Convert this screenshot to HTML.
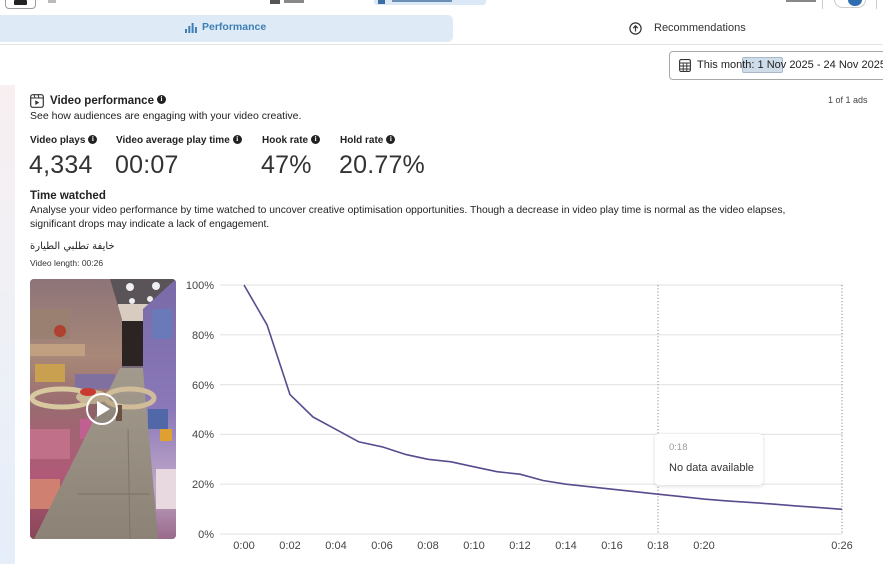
<!DOCTYPE html>
<html>
<head>
<meta charset="utf-8">
<style>
*{margin:0;padding:0;box-sizing:border-box;}
html,body{width:883px;height:564px;overflow:hidden;background:#fff;}
body{position:relative;font-family:"Liberation Sans","Noto Sans CJK SC",sans-serif;color:#222;}
.a{position:absolute;white-space:nowrap;}
.info{display:inline-block;width:9px;height:9px;border-radius:50%;background:#222;color:#fff;font-size:7px;line-height:9px;text-align:center;font-weight:bold;vertical-align:middle;margin-left:3px;position:relative;top:-1px;font-family:"Liberation Serif",serif;}
.lbl{font-size:10px;font-weight:bold;color:#222;}
.val{font-size:25px;color:#333;letter-spacing:0.2px;}
</style>
</head>
<body>
<!-- top toolbar remnants -->
<div class="a" style="left:5px;top:-6px;width:31px;height:15px;border:1px solid #9a9a9a;border-radius:4px;"></div>
<div class="a" style="left:14px;top:0;width:13px;height:5px;background:#222;border-radius:1px;"></div>
<div class="a" style="left:48px;top:0;width:8px;height:3px;background:#bbb;"></div>
<div class="a" style="left:270px;top:0;width:10px;height:4px;background:#555;"></div>
<div class="a" style="left:284px;top:0;width:20px;height:3px;background:#888;"></div>
<div class="a" style="left:374px;top:-4px;width:112px;height:9px;background:#dbe8f5;border-radius:3px;"></div>
<div class="a" style="left:378px;top:0;width:7px;height:4px;background:#3a6ea5;"></div>
<div class="a" style="left:392px;top:0;width:60px;height:2px;background:#6b8fb5;"></div>
<div class="a" style="left:786px;top:0;width:30px;height:2px;background:#888;"></div>
<div class="a" style="left:822px;top:0;width:1px;height:9px;background:#ccc;"></div>
<div class="a" style="left:834px;top:-9px;width:32px;height:17px;border:1px solid #ccc;border-radius:9px;"></div>
<div class="a" style="left:848px;top:-6px;width:14px;height:12px;background:#2f6db0;border-radius:50%;"></div>
<div class="a" style="left:876px;top:0;width:1px;height:9px;background:#ccc;"></div>

<!-- tab bar -->
<div class="a" style="left:0;top:15px;width:453px;height:27px;background:#deeaf6;border-radius:0 5px 5px 0;"></div>
<svg class="a" style="left:185px;top:22px;" width="12" height="11" viewBox="0 0 12 11">
<rect x="0" y="7" width="2" height="4" fill="#3d7fb5"/><rect x="3.3" y="4" width="2" height="7" fill="#3d7fb5"/><rect x="6.6" y="1" width="2" height="10" fill="#3d7fb5"/><rect x="9.9" y="5" width="2" height="6" fill="#3d7fb5"/></svg>
<div class="a" style="left:202px;top:21px;font-size:10.5px;font-weight:bold;color:#3d7fb5;line-height:13px;">Performance</div>
<svg class="a" style="left:629px;top:22px;" width="13" height="13" viewBox="0 0 13 13">
<circle cx="6.5" cy="6.5" r="5.6" fill="none" stroke="#333" stroke-width="1.2"/><path d="M6.5 9.5V4M4.2 6.2L6.5 3.8 8.8 6.2" fill="none" stroke="#333" stroke-width="1.2"/></svg>
<div class="a" style="left:654px;top:21px;font-size:11px;color:#333;line-height:14px;">Recommendations</div>
<div class="a" style="left:0;top:44px;width:883px;height:1px;background:#e3e3e3;"></div>

<!-- date button -->
<div class="a" style="left:669px;top:51px;width:230px;height:29px;border:1px solid #a8a8a8;border-radius:4px;"></div>
<svg class="a" style="left:679px;top:59px;" width="12" height="13" viewBox="0 0 12 13">
<rect x="0.6" y="0.6" width="10.8" height="11.8" rx="1.5" fill="none" stroke="#333" stroke-width="1.1"/>
<path d="M0.6 4H11.4M0.6 7H11.4M0.6 10H11.4M4.2 4V12.4M7.8 4V12.4" stroke="#333" stroke-width="0.9"/></svg>
<div class="a" style="left:742px;top:57px;width:41px;height:16px;background:#cfdcea;border:1px solid #aab8c8;border-radius:2px;"></div>
<div class="a" style="left:697px;top:58px;font-size:11px;color:#222;line-height:14px;">This month: 1 Nov 2025 - 24 Nov 2025</div>
<div class="a" style="left:828px;top:95px;font-size:9px;color:#444;line-height:11px;">1 of 1 ads</div>

<!-- left strip -->
<div class="a" style="left:0;top:85px;width:15px;height:479px;background:linear-gradient(#f8eff1,#eef0f6 50%,#e6eef9);"></div>

<!-- header -->
<svg class="a" style="left:30px;top:94px;" width="14" height="14" viewBox="0 0 14 14">
<rect x="0.7" y="0.7" width="12.6" height="12.6" rx="2" fill="none" stroke="#333" stroke-width="1.2"/>
<path d="M0.7 4H13.3M4 0.7L5 4M8 0.7L9 4" stroke="#333" stroke-width="1"/>
<path d="M5.3 6.2V11L9.3 8.6Z" fill="#333"/></svg>
<div class="a" style="left:50px;top:94px;font-size:11.5px;font-weight:bold;color:#222;line-height:15px;">Video performance<span class="info">i</span></div>
<div class="a" style="left:30px;top:110px;font-size:10.5px;color:#222;line-height:13px;">See how audiences are engaging with your video creative.</div>

<div class="a lbl" style="left:30px;top:135px;line-height:12px;">Video plays<span class="info">i</span></div>
<div class="a lbl" style="left:116px;top:135px;line-height:12px;">Video average play time<span class="info">i</span></div>
<div class="a lbl" style="left:262px;top:135px;line-height:12px;">Hook rate<span class="info">i</span></div>
<div class="a lbl" style="left:340px;top:135px;line-height:12px;">Hold rate<span class="info">i</span></div>

<div class="a val" style="left:29px;top:150px;line-height:30px;">4,334</div>
<div class="a val" style="left:115px;top:150px;line-height:30px;">00:07</div>
<div class="a val" style="left:261px;top:150px;line-height:30px;">47%</div>
<div class="a val" style="left:339px;top:150px;line-height:30px;">20.77%</div>

<div class="a" style="left:30px;top:189px;font-size:11.5px;font-weight:bold;color:#222;line-height:14px;">Time watched</div>
<div class="a" style="left:30px;top:204px;font-size:10.3px;color:#222;line-height:14px;">Analyse your video performance by time watched to uncover creative optimisation opportunities. Though a decrease in video play time is normal as the video elapses,<br>significant drops may indicate a lack of engagement.</div>
<div class="a" style="left:30px;top:240px;font-size:10px;color:#222;line-height:14px;font-family:'DejaVu Sans',sans-serif;direction:rtl;unicode-bidi:embed;">خايفة تطلبي الطيارة</div>
<div class="a" style="left:30px;top:258px;font-size:8.5px;color:#333;line-height:11px;">Video length: 00:26</div>

<!-- video thumbnail -->
<svg class="a" style="left:30px;top:279px;" width="146" height="260" viewBox="0 0 146 260">
<defs><clipPath id="c"><rect width="146" height="260" rx="4"/></clipPath>
<linearGradient id="fl" x1="0" y1="0" x2="0" y2="1"><stop offset="0" stop-color="#a39a8e"/><stop offset="1" stop-color="#8c8276"/></linearGradient>
<linearGradient id="ls" x1="0" y1="0" x2="0" y2="1"><stop offset="0" stop-color="#8d7478"/><stop offset="0.3" stop-color="#a88878"/><stop offset="0.5" stop-color="#9a6a70"/><stop offset="0.75" stop-color="#b05a78"/><stop offset="1" stop-color="#8a4658"/></linearGradient>
<linearGradient id="rs" x1="0" y1="0" x2="0" y2="1"><stop offset="0" stop-color="#7a6aa8"/><stop offset="0.5" stop-color="#8a78b8"/><stop offset="0.8" stop-color="#c0a8c8"/><stop offset="1" stop-color="#9a6a8a"/></linearGradient></defs>
<g clip-path="url(#c)">
<rect width="146" height="260" fill="#7a6a78"/>
<!-- ceiling -->
<rect x="70" y="0" width="76" height="45" fill="#5a5458"/>
<rect x="88" y="25" width="32" height="18" fill="#d8ccc0"/>
<circle cx="100" cy="8" r="4" fill="#f0f0f0"/><circle cx="126" cy="7" r="4" fill="#f0f0f0"/><circle cx="102" cy="22" r="3" fill="#eee"/><circle cx="120" cy="20" r="3" fill="#eee"/><circle cx="132" cy="18" r="3" fill="#eee"/>
<!-- doorway -->
<rect x="92" y="42" width="23" height="45" fill="#2c2422"/>
<!-- left shelves -->
<polygon points="0,0 80,0 92,40 92,92 5,260 0,260" fill="url(#ls)"/>
<rect x="0" y="30" width="40" height="30" fill="#9a8070"/>
<rect x="0" y="65" width="55" height="12" fill="#c0a080"/>
<rect x="5" y="85" width="30" height="18" fill="#c8a050"/>
<rect x="45" y="95" width="40" height="15" fill="#8070a0"/>
<rect x="0" y="150" width="40" height="30" fill="#c07088"/>
<rect x="50" y="140" width="25" height="20" fill="#c06090"/>
<rect x="0" y="200" width="30" height="30" fill="#d08070"/>
<circle cx="30" cy="52" r="6" fill="#b04030"/>
<!-- floor -->
<polygon points="90,89 113,89 128,260 4,260" fill="url(#fl)"/>
<line x1="48" y1="215" x2="120" y2="215" stroke="#7a7064" stroke-width="1"/>
<line x1="98" y1="150" x2="100" y2="260" stroke="#7e746a" stroke-width="1"/>
<!-- right shelves -->
<polygon points="113,30 146,0 146,260 128,260 113,89" fill="url(#rs)"/>
<rect x="122" y="30" width="20" height="30" fill="#6a7ab8"/>
<rect x="118" y="130" width="20" height="20" fill="#5068a8"/>
<rect x="130" y="150" width="12" height="12" fill="#e0a030"/>
<rect x="126" y="190" width="20" height="40" fill="#e8d8e0"/>
<!-- drone -->
<ellipse cx="32" cy="119" rx="30" ry="9" fill="none" stroke="#d8c8a0" stroke-width="5"/>
<ellipse cx="100" cy="119" rx="24" ry="9" fill="none" stroke="#d0bc98" stroke-width="5"/>
<ellipse cx="62" cy="118" rx="16" ry="7" fill="#c8b898"/>
<ellipse cx="58" cy="113" rx="8" ry="4" fill="#c83a30"/>
<rect x="86" y="126" width="6" height="16" fill="#6a5040"/>
<!-- play -->
<circle cx="72" cy="130" r="15" fill="rgba(0,0,0,0.08)" stroke="#fff" stroke-width="2"/>
<path d="M67 122V138L80 130Z" fill="#fff"/>
</g>
</svg>

<!-- chart -->
<svg class="a" style="left:0;top:0;" width="883" height="564" viewBox="0 0 883 564">
<g stroke="#e6e6e6" stroke-width="1.2">
<line x1="220" y1="285" x2="843" y2="285"/>
<line x1="220" y1="334.8" x2="843" y2="334.8"/>
<line x1="220" y1="384.6" x2="843" y2="384.6"/>
<line x1="220" y1="434.4" x2="843" y2="434.4"/>
<line x1="220" y1="484.2" x2="843" y2="484.2"/>
<line x1="220" y1="534" x2="843" y2="534"/>
</g>
<g stroke="#8a8a8a" stroke-width="1" stroke-dasharray="1.2 2">
<line x1="658" y1="285" x2="658" y2="534"/>
<line x1="842" y1="285" x2="842" y2="534"/>
</g>
<g font-family="Liberation Sans, sans-serif" font-size="11" fill="#444" text-anchor="end">
<text x="214" y="289">100%</text>
<text x="214" y="339">80%</text>
<text x="214" y="389">60%</text>
<text x="214" y="438">40%</text>
<text x="214" y="488">20%</text>
<text x="214" y="538">0%</text>
</g>
<g font-family="Liberation Sans, sans-serif" font-size="11" fill="#444" text-anchor="middle">
<text x="244" y="549">0:00</text>
<text x="290" y="549">0:02</text>
<text x="336" y="549">0:04</text>
<text x="382" y="549">0:06</text>
<text x="428" y="549">0:08</text>
<text x="474" y="549">0:10</text>
<text x="520" y="549">0:12</text>
<text x="566" y="549">0:14</text>
<text x="612" y="549">0:16</text>
<text x="658" y="549">0:18</text>
<text x="704" y="549">0:20</text>
<text x="842" y="549">0:26</text>
</g>
<polyline fill="none" stroke="#5a4a8e" stroke-width="1.6" stroke-linejoin="round"
points="244,285 267,324.8 290,394.6 313,417 336,429.4 359,441.9 382,446.8 405,454.3 428,459.3 451,461.8 474,466.8 497,471.7 520,474.2 543,480.5 566,484.2 589,486.7 612,489.2 635,491.7 658,494.2 681,496.6 704,499.1 727,500.9 750,502.4 773,504.1 796,505.9 819,507.6 842,509.3"/>
<defs><filter id="sh" x="-20%" y="-30%" width="140%" height="160%"><feDropShadow dx="0" dy="1" stdDeviation="2" flood-color="#000" flood-opacity="0.15"/></filter></defs>
<rect x="655" y="434" width="108" height="51" rx="4" fill="#fff" filter="url(#sh)"/>
<text x="669" y="450" font-family="Liberation Sans, sans-serif" font-size="9.5" fill="#9a9a9a">0:18</text>
<text x="669" y="471" font-family="Liberation Sans, sans-serif" font-size="11" fill="#333">No data available</text>
</svg>
</body>
</html>
